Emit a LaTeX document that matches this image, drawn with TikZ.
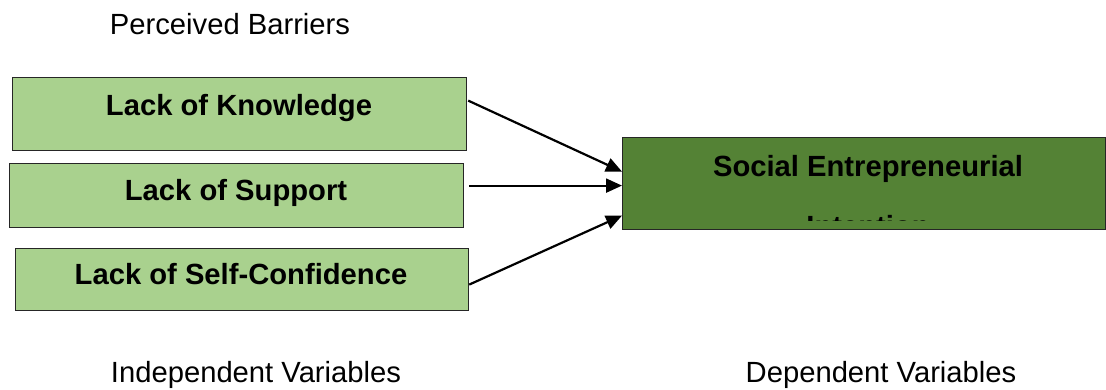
\documentclass[tikz,border=0pt]{standalone}
\usepackage{fontspec}
\setmainfont{Liberation Sans}
\usetikzlibrary{arrows.meta}
\definecolor{lightgr}{HTML}{A9D18E}
\definecolor{darkgr}{HTML}{548235}
\begin{document}
\begin{tikzpicture}[x=0.5pt,y=-0.5pt,
  bx/.style={draw=black!85,line width=0.6pt,fill=lightgr,inner sep=0pt,anchor=north west},
  bigbx/.style={draw=black!85,line width=0.6pt,fill=darkgr,inner sep=0pt,anchor=north west},
  btxt/.style={font=\fontsize{14.6}{17}\selectfont\bfseries,anchor=base,inner sep=0pt},
  rtxt/.style={font=\fontsize{14.6}{17}\selectfont,anchor=base,inner sep=0pt},
  arr/.style={line width=1.1pt,-{Triangle[length=8pt,width=7pt]}}]
\useasboundingbox (0,0) rectangle (1106,390);
% boxes
\node[bx,minimum width=227pt,minimum height=36.5pt] (k) at (12,77) {};
\node[bx,minimum width=227pt,minimum height=32pt] (s) at (9,163) {};
\node[bx,minimum width=226.5pt,minimum height=31pt] (c) at (15,248) {};
\node[bigbx,minimum width=241.5pt,minimum height=46pt] (se) at (622,137) {};
% box texts
\node[btxt] (kt) at (239,115) {Lack of Knowledge};
\node[btxt] (st) at (236,200) {Lack of Support};
\node[btxt] (ct) at (241,284) {Lack of Self-Confidence};
\begin{scope}
\clip (622,137) rectangle (1106,220);
\node[btxt] (set1) at (868,176) {Social Entrepreneurial};
\node[btxt] (set2) at (868,236) {Intention};
\end{scope}
% labels
\node[rtxt] (pb) at (230,35) {Perceived Barriers};
\node[rtxt] (iv) at (256,382) {Independent Variables};
\node[rtxt] (dv) at (881,382) {Dependent Variables};
% arrows
\draw[arr] ([xshift=0.5pt,yshift=6.75pt]k.east) -- ([yshift=6pt]se.west);
\draw[arr] ([xshift=2.5pt,yshift=5pt]s.east) -- ([yshift=-1pt]se.west);
\draw[arr] ([yshift=-2.5pt]c.east) -- ([yshift=-16pt]se.west);
\end{tikzpicture}
\end{document}
